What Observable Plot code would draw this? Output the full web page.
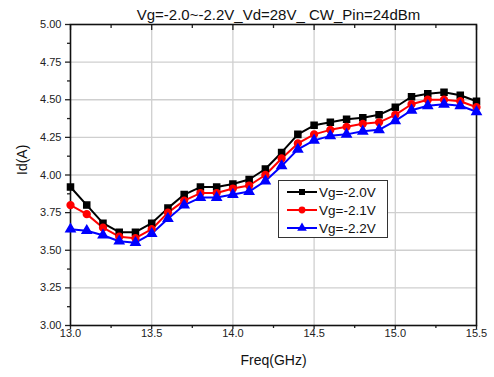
<!DOCTYPE html>
<html><head><meta charset="utf-8">
<script src="https://cdn.jsdelivr.net/npm/d3@7"></script>
<script src="https://cdn.jsdelivr.net/npm/@observablehq/plot@0.6"></script>
<style>
body{margin:0;background:#fff;font-family:"Liberation Sans",Arial,sans-serif}
#wrap{position:relative;width:494px;height:377px}
#legend{position:absolute;left:278px;top:180px;width:110px;height:58px;border:1.5px solid #333;background:#fff;box-sizing:border-box}
.row{position:absolute;left:0;height:18px;display:flex;align-items:center;font-size:13.5px;color:#111}
.row svg{margin-left:8px;margin-right:2px}
</style></head><body><div id="wrap"></div>
<script>
const freq = [13.0,13.1,13.2,13.3,13.4,13.5,13.6,13.7,13.8,13.9,14.0,14.1,14.2,14.3,14.4,14.5,14.6,14.7,14.8,14.9,15.0,15.1,15.2,15.3,15.4,15.5];
const idVg20 = [3.92,3.80,3.68,3.62,3.62,3.68,3.78,3.87,3.92,3.92,3.94,3.97,4.04,4.15,4.27,4.33,4.35,4.37,4.38,4.40,4.45,4.52,4.54,4.55,4.53,4.49];
const idVg21 = [3.80,3.74,3.65,3.59,3.58,3.64,3.75,3.83,3.88,3.88,3.91,3.93,4.00,4.11,4.21,4.27,4.30,4.32,4.34,4.35,4.40,4.47,4.50,4.50,4.49,4.45];
const idVg22 = [3.64,3.63,3.60,3.56,3.55,3.61,3.71,3.80,3.85,3.85,3.87,3.89,3.96,4.06,4.17,4.23,4.26,4.27,4.29,4.30,4.36,4.43,4.46,4.47,4.46,4.42];
const seriesNames = ["Vg=-2.0V","Vg=-2.1V","Vg=-2.2V"];
const seriesColors = ["#000000","#ff0000","#0000ff"];
const seriesSymbols = ["square","circle","triangle"];
const xTicks = [13.0,13.5,14.0,14.5,15.0,15.5];
const xMinor = [13.25,13.75,14.25,14.75,15.25];
const yTicks = [3.00,3.25,3.50,3.75,4.00,4.25,4.50,4.75,5.00];
const yMinor = [3.125,3.375,3.625,3.875,4.125,4.375,4.625,4.875];
const titleText = "Vg=-2.0~-2.2V_Vd=28V_ CW_Pin=24dBm";
const xLabel = "Freq(GHz)";
const yLabel = "Id(A)";

const seriesValues = [idVg20, idVg21, idVg22];
const rows = seriesNames.flatMap((s, k) => freq.map((f, i) => ({f, v: seriesValues[k][i], s})));

const font = "'Liberation Sans', Arial, sans-serif";
const chart = Plot.plot({
  width: 494, height: 377,
  marginLeft: 70, marginRight: 18, marginTop: 24, marginBottom: 52,
  style: {fontFamily: font, background: "#fff", color: "#222"},
  x: {domain: [13, 15.5]},
  y: {domain: [3, 5]},
  color: {domain: seriesNames, range: seriesColors},
  symbol: {domain: seriesNames, range: seriesSymbols},
  marks: [
    Plot.gridX(xTicks.slice(1, -1), {stroke: "#cfcfcf", strokeOpacity: 1, strokeWidth: 1.3}),
    Plot.gridY(yTicks.slice(1, -1), {stroke: "#cfcfcf", strokeOpacity: 1, strokeWidth: 1.3}),
    Plot.axisX(xTicks, {tickSize: 4, tickFormat: () => "", label: null, strokeWidth: 1.3}),
    Plot.axisX(xMinor, {tickSize: 3, tickFormat: () => "", label: null, strokeWidth: 1.3}),
    Plot.axisX(xTicks, {tickSize: 0, tickPadding: 4, tickFormat: d3.format(".1f"), fontSize: 11, label: null}),
    Plot.axisX(xTicks, {anchor: "top", tickSize: -5, tickFormat: () => "", label: null, strokeWidth: 1.3}),
    Plot.axisX(xMinor, {anchor: "top", tickSize: -3, tickFormat: () => "", label: null, strokeWidth: 1.3}),
    Plot.axisY(yTicks, {tickSize: 5, tickPadding: 4, tickFormat: d3.format(".2f"), fontSize: 11, label: null, strokeWidth: 1.3}),
    Plot.axisY(yMinor, {tickSize: 3, tickFormat: () => "", label: null, strokeWidth: 1.3}),
    Plot.frame({stroke: "#111", strokeWidth: 1.6}),
    Plot.line(rows, {x: "f", y: "v", z: "s", stroke: "s", strokeWidth: 2}),
    Plot.dot(rows, {x: "f", y: "v", fill: "s", stroke: "s", symbol: "s", r: 3.4}),
    Plot.text([titleText], {frameAnchor: "top", dx: 5, dy: -15, fontSize: 15, fill: "#111"}),
    Plot.text([xLabel], {frameAnchor: "bottom", dy: 39, fontSize: 14, fill: "#111"}),
    Plot.text([yLabel], {frameAnchor: "left", dx: -48, rotate: -90, fontSize: 14, fill: "#111"})
  ]
});
const wrap = document.getElementById("wrap");
wrap.appendChild(chart);

const legend = document.createElement("div");
legend.id = "legend";
seriesNames.forEach((name, k) => {
  const row = document.createElement("div");
  row.className = "row";
  row.style.top = (2 + k * 18) + "px";
  const sym = d3.symbol().type(
    seriesSymbols[k] === "square" ? d3.symbolSquare : seriesSymbols[k] === "circle" ? d3.symbolCircle : d3.symbolTriangle
  ).size(seriesSymbols[k] === "triangle" ? 40 : 36)();
  row.innerHTML = `<svg width="30" height="12"><line x1="0" x2="30" y1="6" y2="6" stroke="${seriesColors[k]}" stroke-width="2"/><path transform="translate(15,6)" d="${sym}" fill="${seriesColors[k]}"/></svg><span>${name}</span>`;
  legend.appendChild(row);
});
wrap.appendChild(legend);
</script>
</body></html>
